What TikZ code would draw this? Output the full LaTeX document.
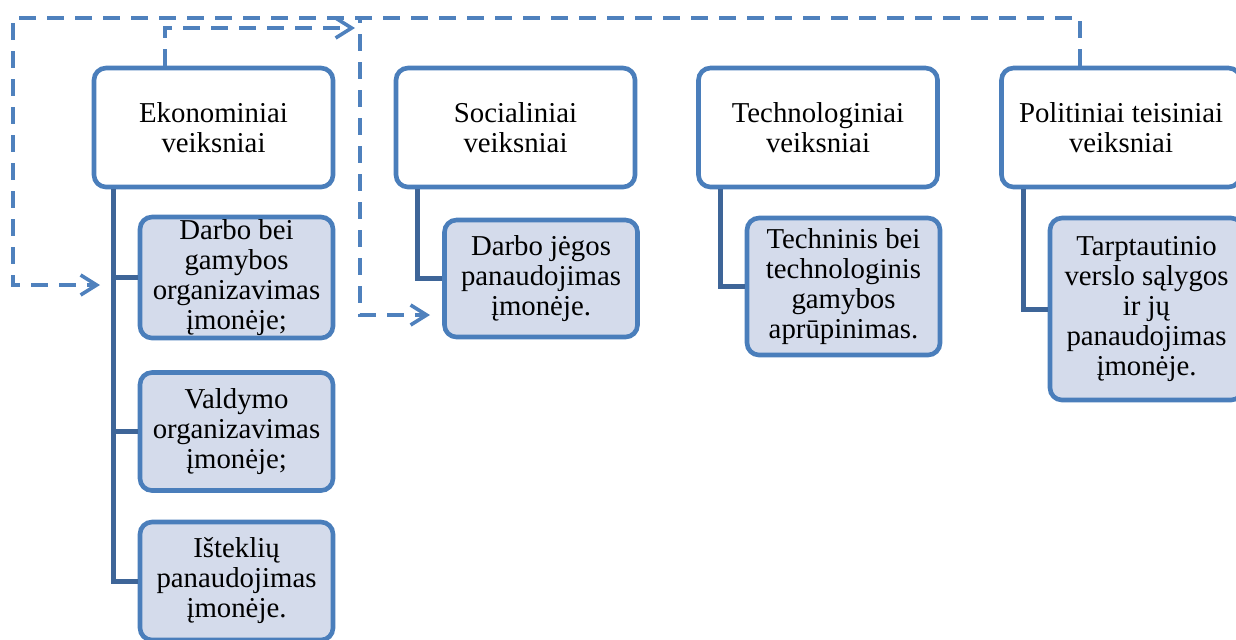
\documentclass[tikz,border=0pt]{standalone}
\usepackage{fontspec}
\setmainfont{Liberation Serif}
\usetikzlibrary{arrows.meta}

\definecolor{boxblue}{RGB}{74,126,187}
\definecolor{childfill}{RGB}{212,219,235}
\definecolor{linkblue}{RGB}{62,101,152}
\definecolor{dashblue}{RGB}{79,129,189}

\begin{document}
\begin{tikzpicture}[x=0.5pt,y=0.5pt]

% definitions
\tikzstyle{factor} = [rectangle, rounded corners=6pt, minimum width=119.5pt, minimum height=59.5pt, align=center, draw=boxblue, line width=2.3pt, fill=white, font=\fontsize{14.4}{15}\selectfont]

\tikzstyle{detail} = [rectangle, rounded corners=6pt, minimum width=96.5pt, inner sep=0.5pt, align=center, draw=boxblue, line width=2.3pt, fill=childfill, font=\fontsize{14.4}{15}\selectfont]

\tikzstyle{link} = [draw=linkblue, line width=2.5pt]

\tikzstyle{dasharrow} = [-{Straight Barb[length=8pt,width=10pt]}, draw=dashblue, line width=1.8pt, dash pattern=on 8.5pt off 5.5pt]

\useasboundingbox (0,0) rectangle (1236,-639);

% the graph
\node (eko) [factor] at (213.5,-127.5) {Ekonominiai\\veiksniai};

\node (soc) [factor] at (515.5,-127.5) {Socialiniai\\veiksniai};

\node (tech) [factor] at (818,-127.5) {Technologiniai\\veiksniai};

\node (pol) [factor] at (1121,-127.5) {Politiniai teisiniai\\veiksniai};

\node (d1) [detail, minimum height=60.5pt] at (236.5,-277.5) {Darbo bei\\gamybos\\organizavimas\\įmonėje;};

\node (d2) [detail, minimum height=59pt, below of=d1, node distance=77pt] {Valdymo\\organizavimas\\įmonėje;};

\node (d3) [detail, minimum height=59pt, below of=d2, node distance=74.75pt] {Išteklių\\panaudojimas\\įmonėje.};

\node (s1) [detail, minimum height=58.5pt] at (541,-278.5) {Darbo jėgos\\panaudojimas\\įmonėje.};

\node (t1) [detail, minimum height=68.5pt] at (843.5,-286.5) {Techninis bei\\technologinis\\gamybos\\aprūpinimas.};

\node (p1) [detail, minimum height=91pt] at (1146.5,-309) {Tarptautinio\\verslo sąlygos\\ir jų\\panaudojimas\\įmonėje.};

\coordinate (ekoin) at (100,-285);
\coordinate (socin) at (430,-315);
\coordinate (topin) at (355,-28);

\draw [link] ([xshift=11pt]eko.south west) |- (d3.west);
\draw [link] ([xshift=11pt]eko.south west) |- (d1.west);
\draw [link] ([xshift=11pt]eko.south west) |- (d2.west);
\draw [link] ([xshift=12pt]soc.south west) |- (s1.west);
\draw [link] ([xshift=12pt]tech.south west) |- (t1.west);
\draw [link] ([xshift=12pt]pol.south west) |- (p1.west);

\draw [dasharrow] ([xshift=-20.5pt]pol.north) |- (13,-18) |- (ekoin);
\draw [dasharrow] ([xshift=-20.5pt]pol.north) |- (360,-18) |- (socin);
\draw [dasharrow] ([xshift=-24.25pt]eko.north) |- (topin);

\end{tikzpicture}
\end{document}
